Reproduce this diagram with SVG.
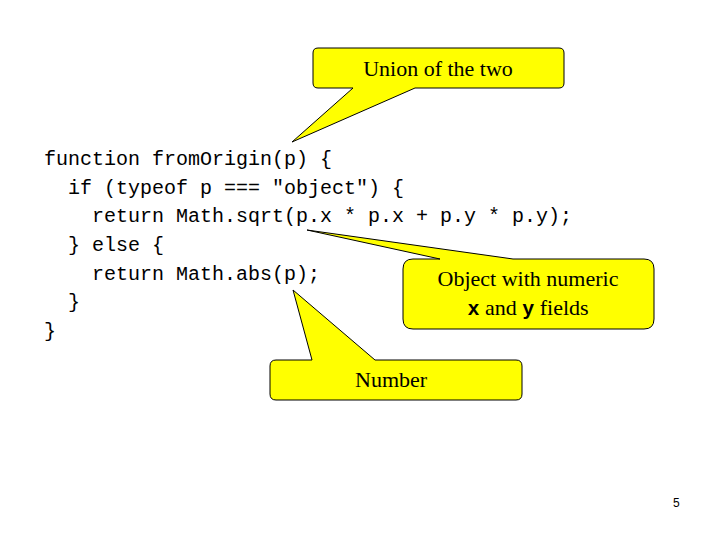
<svg xmlns="http://www.w3.org/2000/svg" width="720" height="540" viewBox="0 0 720 540">
<style>
.code{font-family:"Liberation Mono",monospace;font-size:20px;fill:#000}
.co{fill:#ffff00;stroke:#000;stroke-width:1}
.lbl{font-family:"Liberation Serif",serif;font-size:22px;fill:#000}
</style>
<rect width="720" height="540" fill="#fff"/>
<g id="code">
<text class="code" x="44" y="165" xml:space="preserve">function fromOrigin(p) {</text>
<text class="code" x="44" y="194" xml:space="preserve">  if (typeof p === "object") {</text>
<text class="code" x="44" y="222" xml:space="preserve">    return Math.sqrt(p.x * p.x + p.y * p.y);</text>
<text class="code" x="44" y="251" xml:space="preserve">  } else {</text>
<text class="code" x="44" y="280" xml:space="preserve">    return Math.abs(p);</text>
<text class="code" x="44" y="308" xml:space="preserve">  }</text>
<text class="code" x="44" y="337" xml:space="preserve">}</text>
</g>
<g id="callout-union">
<path class="co" d="M318,48 H559 Q564,48 564,53 V83 Q564,88 559,88 H415 L292,142 L353,88 H318 Q313,88 313,83 V53 Q313,48 318,48 Z"/>
<text class="lbl" x="438" y="76" text-anchor="middle">Union of the two</text>
</g>
<g id="callout-object">
<path class="co" d="M413,259 H440 L307,230 L513,259 H644 Q654,259 654,269 V319 Q654,329 644,329 H413 Q403,329 403,319 V269 Q403,259 413,259 Z"/>
<text class="lbl" x="528" y="286" text-anchor="middle">Object with numeric</text>
<text class="lbl" x="528" y="315" text-anchor="middle"><tspan font-family="Liberation Mono,monospace" font-weight="bold" font-size="20">x</tspan> and <tspan font-family="Liberation Mono,monospace" font-weight="bold" font-size="20">y</tspan> fields</text>
</g>
<g id="callout-number">
<path class="co" d="M276,360 H312 L293,290 L375,360 H516 Q522,360 522,366 V394 Q522,400 516,400 H276 Q270,400 270,394 V366 Q270,360 276,360 Z"/>
<text class="lbl" x="355" y="387">Number</text>
</g>
<text x="673" y="507" font-family="Liberation Sans,sans-serif" font-size="12">5</text>
</svg>
